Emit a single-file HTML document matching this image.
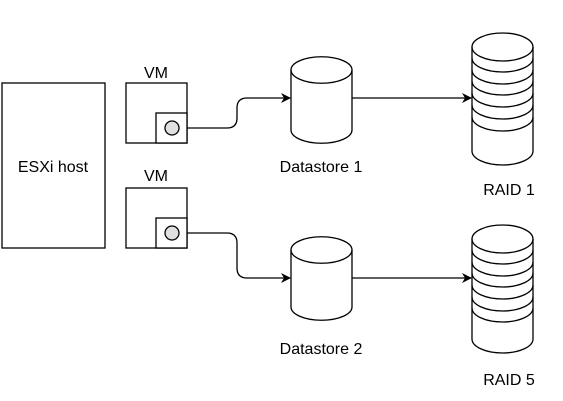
<!DOCTYPE html>
<html><head><style>body{margin:0;background:#fff}svg{display:block}text{font-family:"Liberation Sans",sans-serif;font-size:16px;fill:#000}</style></head><body>
<svg width="563" height="401" viewBox="0 0 563 401" xmlns="http://www.w3.org/2000/svg">
<defs><marker id="a" markerWidth="10" markerHeight="10" refX="9" refY="5" orient="auto" markerUnits="userSpaceOnUse"><path d="M0,0 L10,5 L0,10 L3,5 Z" fill="#000"/></marker></defs>
<g fill="#fff" stroke="#000" stroke-width="1.3">
<rect x="2" y="83" width="103" height="165"/>
<rect x="126" y="83" width="61" height="60"/>
<rect x="156" y="113" width="31" height="30"/>
<circle cx="172" cy="128" r="7" fill="#e0e0e0"/>
<rect x="126" y="188" width="61" height="60"/>
<rect x="156" y="218" width="31" height="30"/>
<circle cx="172" cy="233" r="7" fill="#e0e0e0"/>
<path d="M291,70 A30,13 0 0 1 352,70 L352,130 A30,13 0 0 1 291,130 Z"/>
<path d="M291,70 A30,13 0 0 0 352,70" fill="none"/>
<path d="M291,250 A30,13 0 0 1 352,250 L352,307 A30,13 0 0 1 291,307 Z"/>
<path d="M291,250 A30,13 0 0 0 352,250" fill="none"/>
<path d="M472,47 A30.5,14 0 0 1 533,47 L533,151 A30.5,14 0 0 1 472,151 Z"/>
<path d="M472,47 A30.5,14 0 0 0 533,47 M472,58 A30.5,14 0 0 0 533,58 M472,70 A30.5,14 0 0 0 533,70 M472,81 A30.5,14 0 0 0 533,81 M472,93 A30.5,14 0 0 0 533,93 M472,105 A30.5,14 0 0 0 533,105 M472,117 A30.5,14 0 0 0 533,117" fill="none"/>
<path d="M472,239 A30.5,14 0 0 1 533,239 L533,339 A30.5,14 0 0 1 472,339 Z"/>
<path d="M472,239 A30.5,14 0 0 0 533,239 M472,250 A30.5,14 0 0 0 533,250 M472,262 A30.5,14 0 0 0 533,262 M472,273 A30.5,14 0 0 0 533,273 M472,285 A30.5,14 0 0 0 533,285 M472,297 A30.5,14 0 0 0 533,297 M472,308 A30.5,14 0 0 0 533,308" fill="none"/>
</g>
<g fill="none" stroke="#000" stroke-width="1.3">
<path d="M187,128 L227,128 Q237,128 237,118 L237,108 Q237,98 247,98 L290,98" marker-end="url(#a)"/>
<path d="M187,233 L227,233 Q237,233 237,243 L237,268 Q237,278 247,278 L290,278" marker-end="url(#a)"/>
<path d="M352,98 L471,98" marker-end="url(#a)"/>
<path d="M352,278 L471,278" marker-end="url(#a)"/>
</g>
<text x="53" y="172" text-anchor="middle">ESXi host</text>
<text x="156" y="78" text-anchor="middle">VM</text>
<text x="156" y="181" text-anchor="middle">VM</text>
<text x="321" y="172" text-anchor="middle">Datastore 1</text>
<text x="321" y="354" text-anchor="middle">Datastore 2</text>
<text x="509" y="195" text-anchor="middle">RAID 1</text>
<text x="509" y="385" text-anchor="middle">RAID 5</text>
</svg>
</body></html>
